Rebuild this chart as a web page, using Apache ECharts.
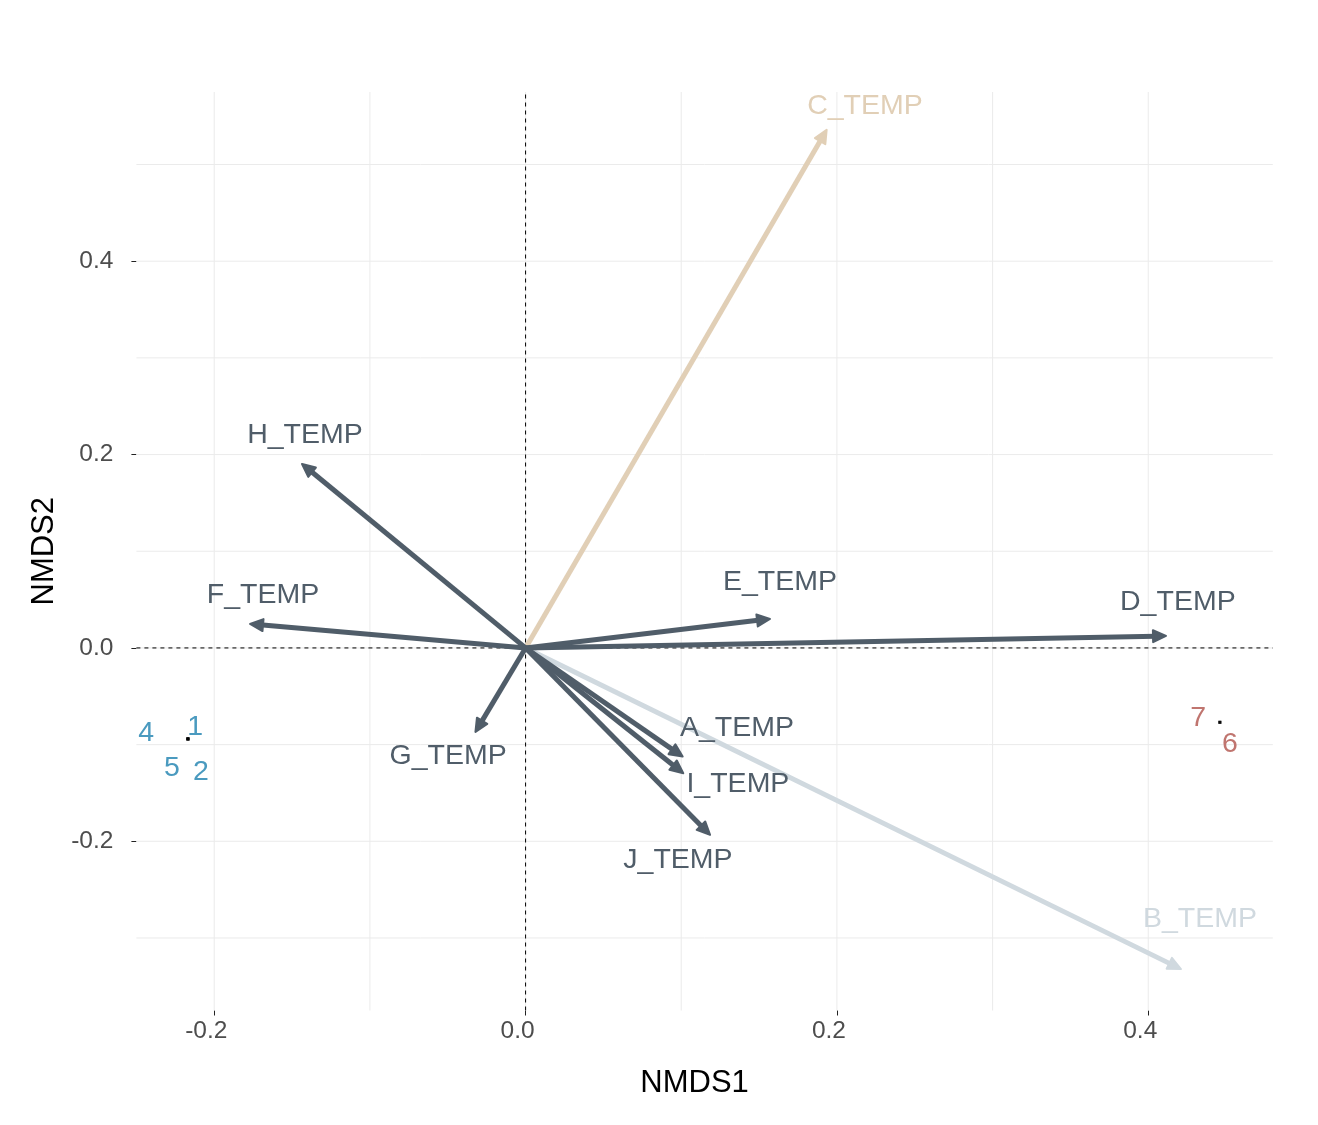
<!DOCTYPE html>
<html><head><meta charset="utf-8">
<script src="https://cdn.jsdelivr.net/npm/echarts@6/dist/echarts.min.js"></script>
<style>html,body{margin:0;padding:0;background:#fff}#c{width:1318px;height:1125px}</style>
</head><body><div id="c"></div>
<script>
// ---- data ----
const vectorNames = ['A_TEMP','B_TEMP','C_TEMP','D_TEMP','E_TEMP','F_TEMP','G_TEMP','H_TEMP','I_TEMP','J_TEMP'];
const vectorX = [0.1009, 0.4210, 0.1934, 0.4114, 0.1570, -0.1770, -0.0322, -0.1436, 0.1013, 0.1185];
const vectorY = [-0.1124, -0.3321, 0.5358, 0.0124, 0.0300, 0.0248, -0.0869, 0.1903, -0.1296, -0.1934];
const vectorLabelX = [0.1358, 0.4332, 0.2180, 0.4190, 0.1634, -0.1687, -0.0498, -0.1417, 0.1364, 0.0979];
const vectorLabelY = [-0.0807, -0.2783, 0.5627, 0.0497, 0.0703, 0.0569, -0.1097, 0.2224, -0.1386, -0.2172];
const vectorGroup = ['dark','light','beige','dark','dark','dark','dark','dark','dark','dark'];

const siteNames = ['4','1','5','2','7','6'];
const siteX = [-0.2169, -0.2169, -0.2169, -0.2169, 0.4460, 0.4460];
const siteY = [-0.0941, -0.0941, -0.0941, -0.0941, -0.0769, -0.0769];
const siteLabelX = [-0.2438, -0.2123, -0.2271, -0.2085, 0.4320, 0.4525];
const siteLabelY = [-0.0859, -0.0797, -0.1221, -0.1262, -0.0703, -0.0972];
const siteGroup = ['blue','blue','blue','blue','red','red'];

const xTicks = [-0.2, 0.0, 0.2, 0.4];
const yTicks = [-0.2, 0.0, 0.2, 0.4];
const xGrid = [-0.2, -0.1, 0.0, 0.1, 0.2, 0.3, 0.4];
const yGrid = [-0.3, -0.2, -0.1, 0.0, 0.1, 0.2, 0.3, 0.4, 0.5];
const xMin = -0.25, xMax = 0.48, yMin = -0.375, yMax = 0.575;

// ---- styles ----
const COLORS = {dark:'#505d69', light:'#d0d9df', beige:'#e1cfb6', blue:'#4a9abf', red:'#c0756f'};
const FONT = '"Liberation Sans", Arial, Helvetica, sans-serif';
const TEXT_DY = 2;

const chart = echarts.init(document.getElementById('c'), null, {renderer:'canvas'});

const drawOrder = vectorNames.map((_, i) => i).sort((a, b) => (vectorGroup[a] === 'dark') - (vectorGroup[b] === 'dark'));

function vLineItem(params, api) {
  const v = api.value(0);
  const a = api.coord([v, yMin]), b = api.coord([v, yMax]);
  return {type:'line', shape:{x1:a[0], y1:a[1], x2:b[0], y2:b[1]}, style:{stroke:'#ebebeb', lineWidth:1}, silent:true};
}
function hLineItem(params, api) {
  const v = api.value(1);
  const a = api.coord([xMin, v]), b = api.coord([xMax, v]);
  return {type:'line', shape:{x1:a[0], y1:a[1], x2:b[0], y2:b[1]}, style:{stroke:'#ebebeb', lineWidth:1}, silent:true};
}

const option = {
  animation: false,
  backgroundColor: '#ffffff',
  grid: {left: 136.4, right: 45.2, top: 92, bottom: 114.5},
  xAxis: {
    type: 'value', min: xMin, max: xMax,
    axisLine: {show: false, onZero: false},
    axisTick: {show: true, customValues: xTicks, length: 5, lineStyle: {color: '#222', width: 1}},
    axisLabel: {customValues: xTicks, formatter: v => v.toFixed(1), color: '#4d4d4d', fontSize: 24.5, fontFamily: FONT, margin: 8, padding: [0, 16, 0, 0]},
    splitLine: {show: false},
    name: 'NMDS1', nameLocation: 'middle', nameGap: 57,
    nameTextStyle: {fontSize: 31, color: '#000', fontFamily: FONT, padding: [0, 20, 0, 0]}
  },
  yAxis: {
    type: 'value', min: yMin, max: yMax,
    axisLine: {show: false, onZero: false},
    axisTick: {show: true, customValues: yTicks, length: 5, lineStyle: {color: '#222', width: 1}},
    axisLabel: {customValues: yTicks, formatter: v => v.toFixed(1), color: '#4d4d4d', fontSize: 24.5, fontFamily: FONT, margin: 23, padding: [8, 0, 0, 0]},
    splitLine: {show: false},
    name: 'NMDS2', nameLocation: 'middle', nameGap: 74,
    nameTextStyle: {fontSize: 31, color: '#000', fontFamily: FONT}
  },
  series: [
    {type:'custom', name:'vgrid', silent:true, clip:false, z:1, data: xGrid.map(v => [v, 0]), renderItem: vLineItem},
    {type:'custom', name:'hgrid', silent:true, clip:false, z:1, data: yGrid.map(v => [0, v]), renderItem: hLineItem},
    {type:'custom', name:'zero', silent:true, clip:false, z:2, data: [[0, 0]],
      renderItem: function(params, api) {
        const l = api.coord([0, yMin]), t = api.coord([0, yMax]);
        const a = api.coord([xMin, 0]), b = api.coord([xMax, 0]);
        return {type:'group', children:[
          {type:'line', shape:{x1:l[0], y1:l[1], x2:t[0], y2:t[1]}, style:{stroke:'#000', lineWidth:1, lineDash:[4,4]}},
          {type:'line', shape:{x1:a[0], y1:a[1], x2:b[0], y2:b[1]}, style:{stroke:'#000', lineWidth:1, lineDash:[4,4]}}
        ]};
      }
    },
    {type:'custom', name:'vectors', silent:true, clip:false, z:3,
      data: drawOrder.map(i => [vectorX[i], vectorY[i], i]),
      renderItem: function(params, api) {
        const idx = api.value(2);
        const col = COLORS[vectorGroup[idx]];
        const p0 = api.coord([0, 0]);
        const p1 = api.coord([api.value(0), api.value(1)]);
        const dx = p1[0] - p0[0], dy = p1[1] - p0[1];
        const len = Math.sqrt(dx*dx + dy*dy);
        const ux = dx/len, uy = dy/len, nx = -uy, ny = ux;
        const L = 13, W = 6;
        const bx = p1[0] - ux*L, by = p1[1] - uy*L;
        return {type:'group', children:[
          {type:'line', shape:{x1:p0[0], y1:p0[1], x2:bx + ux*3, y2:by + uy*3}, style:{stroke:col, lineWidth:5, lineCap:'butt'}},
          {type:'polygon', shape:{points:[[p1[0], p1[1]], [bx + nx*W, by + ny*W], [bx - nx*W, by - ny*W]]},
            style:{fill:col, stroke:col, lineWidth:2, lineJoin:'round'}}
        ]};
      }
    },
    {type:'scatter', name:'sites', silent:true, z:4, symbol:'rect', symbolSize:3,
      itemStyle:{color:'#000'}, data: siteX.map((x, i) => [x, siteY[i]])},
    {type:'custom', name:'vectorLabels', silent:true, clip:false, z:5,
      data: vectorNames.map((n, i) => [vectorLabelX[i], vectorLabelY[i], i]),
      renderItem: function(params, api) {
        const idx = api.value(2);
        const p = api.coord([api.value(0), api.value(1)]);
        return {type:'text', x:p[0], y:p[1] + TEXT_DY, style:{text:vectorNames[idx], fill:COLORS[vectorGroup[idx]],
          fontSize:28.5, fontFamily:FONT, align:'center', verticalAlign:'middle'}};
      }
    },
    {type:'custom', name:'siteLabels', silent:true, clip:false, z:5,
      data: siteNames.map((n, i) => [siteLabelX[i], siteLabelY[i], i]),
      renderItem: function(params, api) {
        const idx = api.value(2);
        const p = api.coord([api.value(0), api.value(1)]);
        return {type:'text', x:p[0], y:p[1] + TEXT_DY, style:{text:siteNames[idx], fill:COLORS[siteGroup[idx]],
          fontSize:28.5, fontFamily:FONT, align:'center', verticalAlign:'middle'}};
      }
    }
  ]
};
chart.setOption(option);
</script>
</body></html>
